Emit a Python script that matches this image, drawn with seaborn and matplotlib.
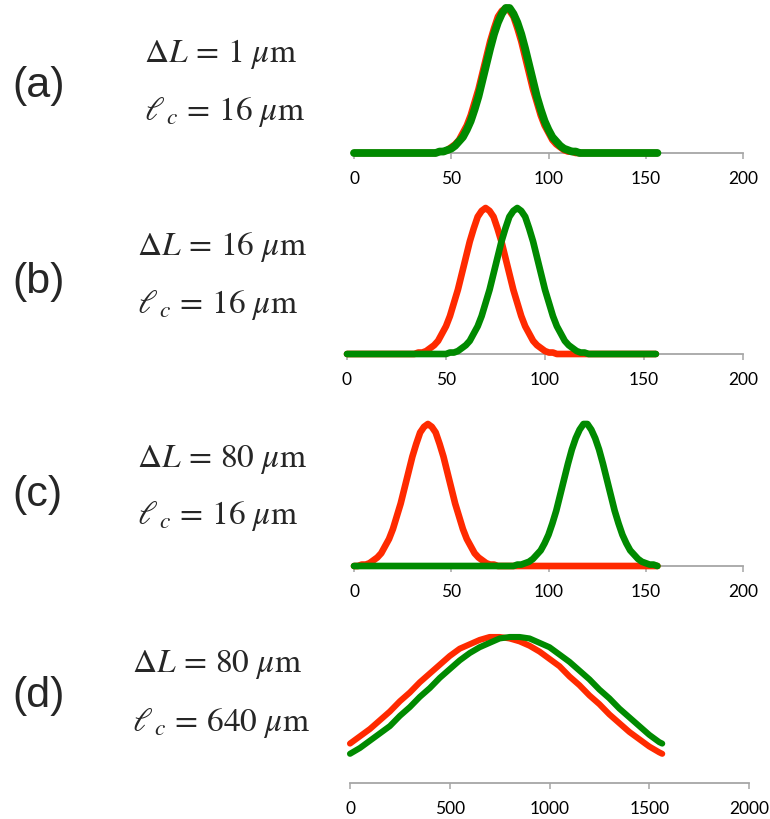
import numpy as np
import pandas as pd
import matplotlib
matplotlib.use("Agg")
import matplotlib.pyplot as plt
import seaborn as sns

# x grid for panels (a)-(c) (step 2, 0..156) and panel (d)
x_short = list(range(0, 157, 2))
x_long = [0, 50, 100, 150, 200, 250, 300, 350, 400, 450, 500, 550, 600, 650, 700, 750,
          800, 850, 900, 950, 1000, 1050, 1100, 1150, 1200, 1250, 1300, 1350, 1400,
          1450, 1500, 1550, 1565]

peak_even = [0.01, 0.01, 0.02, 0.04, 0.06, 0.09, 0.14, 0.19, 0.26, 0.35, 0.44, 0.55,
             0.66, 0.77, 0.86, 0.94, 0.98, 1.00, 0.98, 0.94, 0.86, 0.77, 0.66, 0.55,
             0.44, 0.35, 0.26, 0.19, 0.14, 0.09, 0.06, 0.04, 0.02, 0.01, 0.01]
peak_odd = [0.01, 0.01, 0.02, 0.03, 0.05, 0.08, 0.11, 0.16, 0.22, 0.30, 0.39, 0.50,
            0.61, 0.72, 0.82, 0.90, 0.96, 1.00, 1.00, 0.96, 0.90, 0.82, 0.72, 0.61,
            0.50, 0.39, 0.30, 0.22, 0.16, 0.11, 0.08, 0.05, 0.03, 0.02, 0.01, 0.01]

# (a) dL = 1 um : red peak at 78, green at 79
red_a = [0] * 22 + peak_even + [0] * 22
green_a = [0] * 22 + peak_odd + [0] * 21
# (b) dL = 16 um : red peak at 70, green at 86
red_b = [0] * 18 + peak_even + [0] * 26
green_b = [0] * 26 + peak_even + [0] * 18
# (c) dL = 80 um : red peak at 38, green at 119
red_c = [0] * 2 + peak_even + [0] * 42
green_c = [0] * 42 + peak_odd + [0] * 1
# (d) dL = 80 um, lc = 640 um
red_d = [0.27, 0.32, 0.37, 0.43, 0.49, 0.56, 0.62, 0.69, 0.75, 0.81, 0.87, 0.92, 0.95,
         0.98, 1.00, 1.00, 0.99, 0.97, 0.94, 0.90, 0.85, 0.80, 0.73, 0.67, 0.60, 0.54,
         0.47, 0.41, 0.35, 0.30, 0.25, 0.21, 0.20]
green_d = [0.20, 0.24, 0.29, 0.34, 0.39, 0.46, 0.52, 0.59, 0.65, 0.72, 0.78, 0.84, 0.89,
           0.93, 0.96, 0.99, 1.00, 1.00, 0.99, 0.96, 0.93, 0.88, 0.83, 0.77, 0.71, 0.64,
           0.58, 0.51, 0.45, 0.39, 0.33, 0.28, 0.27]

labels = ["(a)", "(b)", "(c)", "(d)"]
dL_text = [r"$\Delta L\,=\,1\ \mu\mathrm{m}$", r"$\Delta L\,=\,16\ \mu\mathrm{m}$",
           r"$\Delta L\,=\,80\ \mu\mathrm{m}$", r"$\Delta L\,=\,80\ \mu\mathrm{m}$"]
lc_text = [r"$\ell_{\,c}\,=\,16\ \mu\mathrm{m}$", r"$\ell_{\,c}\,=\,16\ \mu\mathrm{m}$",
           r"$\ell_{\,c}\,=\,16\ \mu\mathrm{m}$", r"$\ell_{\,c}\,=\,640\ \mu\mathrm{m}$"]

RED = "#ff2a00"
GREEN = "#008a00"
AXIS = "#a6a6a6"

sns.set_style("white")
plt.rcParams["mathtext.fontset"] = "stix"
plt.rcParams["font.family"] = ["Lato", "DejaVu Sans"]

W, H = 770, 819
fig = plt.figure(figsize=(W / 100, H / 100), dpi=100)

# pixel layout: x0, x1, axis y, height of unit
boxes = [(354, 743, 153, 145), (347, 743, 354, 146), (354, 743, 566, 142), (350, 749, 783, 146)]
series = [(x_short, red_a, green_a), (x_short, red_b, green_b),
          (x_short, red_c, green_c), (x_long, red_d, green_d)]
widths = [(4.8, 5.6), (4.8, 4.8), (4.8, 4.8), (4.4, 4.4)]
label_base = [97, 293, 506, 707]
text_x = [144, 137, 137, 132]
dl_base = [62, 255, 467, 672]
lc_base = [120, 313, 524, 731]

for i in range(4):
    x0, x1, yax, h = boxes[i]
    ax = fig.add_axes([x0 / W, 1 - yax / H, (x1 - x0) / W, h / H])
    xs, r, g = series[i]
    df = pd.DataFrame({"x": xs, "red": r, "green": g})
    sns.lineplot(data=df, x="x", y="red", ax=ax, color=RED, linewidth=widths[i][0],
                 solid_capstyle="round", solid_joinstyle="round", clip_on=False, zorder=3)
    sns.lineplot(data=df, x="x", y="green", ax=ax, color=GREEN, linewidth=widths[i][1],
                 solid_capstyle="round", solid_joinstyle="round", clip_on=False, zorder=4)
    if i < 3:
        ax.set_xlim(0, 200)
        ax.set_xticks([0, 50, 100, 150, 200])
    else:
        ax.set_xlim(0, 2000)
        ax.set_xticks([0, 500, 1000, 1500, 2000])
    ax.set_ylim(0, 1)
    ax.set_yticks([])
    ax.set_xlabel("")
    ax.set_ylabel("")
    for s in ["left", "top", "right"]:
        ax.spines[s].set_visible(False)
    ax.spines["bottom"].set_color(AXIS)
    ax.spines["bottom"].set_linewidth(1.3)
    ax.spines["bottom"].set_zorder(1)
    ax.patch.set_visible(False)
    ax.tick_params(axis="x", bottom=True, direction="out", length=4, width=1.1, color=AXIS,
                   labelsize=12.5, labelcolor="black", pad=9)

    fig.text(12 / W, 1 - label_base[i] / H, labels[i], fontsize=31,
             family="Liberation Sans", va="baseline", ha="left")
    fig.text(text_x[i] / W, 1 - dl_base[i] / H, dL_text[i], fontsize=24,
             va="baseline", ha="left")
    fig.text(text_x[i] / W, 1 - lc_base[i] / H, lc_text[i], fontsize=24,
             va="baseline", ha="left")

fig.savefig("out.png", dpi=100)
